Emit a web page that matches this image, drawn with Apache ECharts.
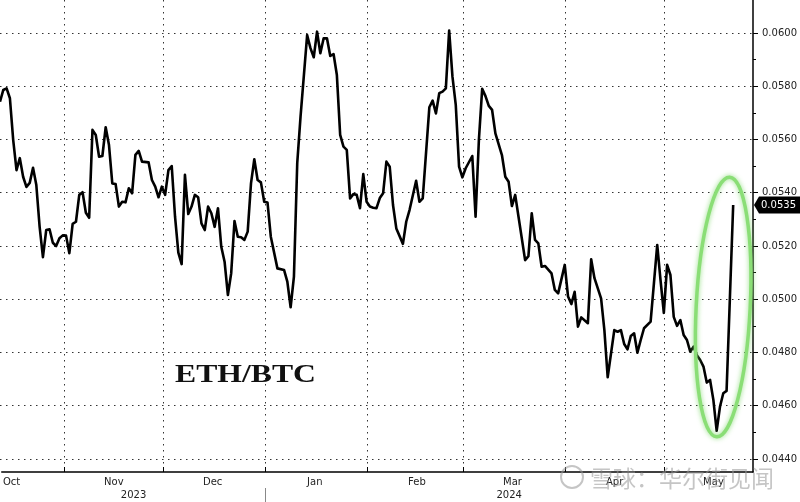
<!DOCTYPE html>
<html><head><meta charset="utf-8">
<script src="https://cdn.jsdelivr.net/npm/echarts@6/dist/echarts.min.js"></script>
<style>html,body{margin:0;padding:0;background:#fff}#c{width:800px;height:502px}</style>
</head><body><div id="c"></div>
<script>
// ---- data ----
const dates = [
'2023-10-13','2023-10-14','2023-10-15','2023-10-16','2023-10-17','2023-10-18','2023-10-19','2023-10-20','2023-10-21','2023-10-22',
'2023-10-23','2023-10-24','2023-10-25','2023-10-26','2023-10-27','2023-10-28','2023-10-29','2023-10-30','2023-10-31',
'2023-11-01','2023-11-02','2023-11-03','2023-11-04','2023-11-05','2023-11-06','2023-11-07','2023-11-08','2023-11-09','2023-11-10',
'2023-11-11','2023-11-12','2023-11-13','2023-11-14','2023-11-15','2023-11-16','2023-11-17','2023-11-18','2023-11-19','2023-11-20',
'2023-11-21','2023-11-22','2023-11-23','2023-11-24','2023-11-25','2023-11-27','2023-11-28','2023-11-29','2023-11-30',
'2023-12-01','2023-12-02','2023-12-03','2023-12-04','2023-12-05','2023-12-06','2023-12-07','2023-12-08','2023-12-09','2023-12-10',
'2023-12-11','2023-12-12','2023-12-13','2023-12-14','2023-12-15','2023-12-16','2023-12-17','2023-12-18','2023-12-19','2023-12-20',
'2023-12-21','2023-12-22','2023-12-23','2023-12-24','2023-12-25','2023-12-26','2023-12-27','2023-12-28','2023-12-29','2023-12-30','2023-12-31',
'2024-01-01','2024-01-02','2024-01-03','2024-01-05','2024-01-07','2024-01-08','2024-01-09','2024-01-10','2024-01-11','2024-01-12',
'2024-01-14','2024-01-15','2024-01-16','2024-01-17','2024-01-18','2024-01-19','2024-01-20','2024-01-21','2024-01-22','2024-01-23',
'2024-01-24','2024-01-25','2024-01-26','2024-01-27','2024-01-28','2024-01-29','2024-01-30','2024-01-31',
'2024-02-01','2024-02-02','2024-02-03','2024-02-04','2024-02-05','2024-02-06','2024-02-07','2024-02-08','2024-02-09','2024-02-10',
'2024-02-12','2024-02-13','2024-02-14','2024-02-16','2024-02-17','2024-02-18','2024-02-20','2024-02-21','2024-02-22','2024-02-23',
'2024-02-24','2024-02-25','2024-02-26','2024-02-27','2024-02-28','2024-02-29',
'2024-03-01','2024-03-02','2024-03-04','2024-03-05','2024-03-06','2024-03-07','2024-03-08','2024-03-09','2024-03-10','2024-03-11',
'2024-03-13','2024-03-14','2024-03-15','2024-03-16','2024-03-17','2024-03-18','2024-03-20','2024-03-21','2024-03-22','2024-03-23',
'2024-03-24','2024-03-25','2024-03-26','2024-03-28','2024-03-29','2024-03-30',
'2024-04-01','2024-04-02','2024-04-03','2024-04-04','2024-04-05','2024-04-06','2024-04-08','2024-04-09','2024-04-10','2024-04-12',
'2024-04-13','2024-04-14','2024-04-16','2024-04-17','2024-04-18','2024-04-19','2024-04-20','2024-04-21','2024-04-22','2024-04-23',
'2024-04-24','2024-04-25','2024-04-27','2024-04-28','2024-04-29','2024-04-30',
'2024-05-01','2024-05-02','2024-05-03','2024-05-04','2024-05-05','2024-05-06','2024-05-07','2024-05-08','2024-05-09','2024-05-10',
'2024-05-11','2024-05-12','2024-05-13','2024-05-14','2024-05-15','2024-05-16','2024-05-17','2024-05-18','2024-05-19','2024-05-20',
'2024-05-21','2024-05-22'
];
const values = [
0.05742,0.05786,0.05792,0.05755,0.05598,0.05485,0.05530,0.05460,0.05422,0.05437,
0.05494,0.05429,0.05272,0.05158,0.05260,0.05263,0.05212,0.05200,0.05229,
0.05240,0.05239,0.05173,0.05283,0.05291,0.05392,0.05402,0.05325,0.05306,0.05636,
0.05617,0.05535,0.05538,0.05646,0.05579,0.05435,0.05433,0.05348,0.05366,0.05364,
0.05417,0.05398,0.05542,0.05557,0.05517,0.05514,0.05448,0.05423,0.05383,
0.05423,0.05392,0.05485,0.05500,0.05310,0.05175,0.05132,0.05467,0.05320,0.05348,
0.05392,0.05383,0.05285,0.05260,0.05348,0.05323,0.05272,0.05342,0.05197,0.05141,
0.05016,0.05097,0.05294,0.05235,0.05233,0.05223,0.05254,0.05435,0.05526,0.05448,0.05439,
0.05366,0.05363,0.05235,0.05116,0.05110,0.05066,0.04970,0.05085,0.05511,0.05686,
0.05992,0.05943,0.05909,0.06005,0.05924,0.05980,0.05980,0.05914,0.05921,0.05842,
0.05617,0.05573,0.05561,0.05379,0.05395,0.05392,0.05342,0.05470,
0.05366,0.05348,0.05344,0.05342,0.05380,0.05398,0.05517,0.05498,0.05354,0.05266,
0.05208,0.05291,0.05335,0.05445,0.05366,0.05379,0.05721,0.05746,0.05698,0.05774,
0.05780,0.05792,0.06009,0.05836,0.05730,0.05498,
0.05458,0.05492,0.05538,0.05310,0.05598,0.05790,0.05763,0.05726,0.05711,0.05623,
0.05540,0.05460,0.05441,0.05350,0.05392,0.05310,0.05147,0.05162,0.05323,0.05223,
0.05210,0.05122,0.05125,0.05097,0.05035,0.05022,
0.05129,0.05010,0.04982,0.05028,0.04897,0.04932,0.04910,0.05150,0.05079,0.05003,
0.04884,0.04707,0.04884,0.04878,0.04884,0.04832,0.04812,0.04862,0.04872,0.04799,
0.04847,0.04891,0.04916,0.05060,0.05204,0.05072,
0.04949,0.05129,0.05091,0.04934,0.04900,0.04922,0.04866,0.04847,0.04803,0.04822,
0.04790,0.04772,0.04747,0.04687,0.04697,0.04622,0.04506,0.04596,0.04647,0.04656,
0.05004,0.05354
];
const monthNames = ['Jan','Feb','Mar','Apr','May','Jun','Jul','Aug','Sep','Oct','Nov','Dec'];
const yearLabels = ['2023','2024'];
const axisStart = '2023-10-13';
const axisEnd = '2024-05-28';
const yMin = 0.044, yMax = 0.060, yStep = 0.002;
const chartTitle = 'ETH/BTC';
const watermark = '雪球：华尔街见闻';

// ---- daily category axis ----
const categories = [];
for (let t = Date.parse(axisStart + 'T00:00:00Z'); t <= Date.parse(axisEnd + 'T00:00:00Z'); t += 86400000) {
  categories.push(new Date(t).toISOString().slice(0, 10));
}
const isMonthStart = (i, v) => v.slice(8) === '01';
const isMidMonth = (i, v) => v.slice(8) === '16';
const yearIdx = categories.findIndex(v => v.endsWith('-01-01'));
const yearMid = [Math.round(yearIdx / 2), Math.round((yearIdx + categories.length - 1) / 2)];

const FONT = 'DejaVu Sans';
const dotted = { type: [1.5, 4.5], color: '#333', width: 1 };

const chart = echarts.init(document.getElementById('c'), null, { renderer: 'canvas' });
chart.setOption({
  animation: false,
  backgroundColor: '#fff',
  grid: [
    { left: 0, right: 47, top: 0, bottom: 30 },
    { left: 0, right: 47, top: 33, bottom: 43 }
  ],
  xAxis: [
    {
      type: 'category', gridIndex: 0, data: categories, boundaryGap: false, position: 'bottom',
      axisLine: { show: true, lineStyle: { color: '#000', width: 1.5 } },
      axisTick: { show: true, inside: true, length: 5, interval: isMonthStart, lineStyle: { color: '#000' } },
      axisLabel: { interval: isMidMonth, formatter: v => monthNames[+v.slice(5, 7) - 1], margin: 5,
        color: '#222', fontFamily: FONT, fontSize: 10 },
      splitLine: { show: true, interval: isMonthStart, lineStyle: dotted }
    },
    {
      type: 'category', gridIndex: 0, data: categories, boundaryGap: false, position: 'bottom', offset: 16,
      axisLine: { show: false },
      axisTick: { show: true, length: 14, interval: (i, v) => v.endsWith('-01-01'), lineStyle: { color: '#888' } },
      axisLabel: { interval: (i) => yearMid.includes(i), formatter: v => yearLabels[yearLabels.indexOf(v.slice(0, 4))],
        margin: 2, color: '#222', fontFamily: FONT, fontSize: 10 },
      splitLine: { show: false }
    },
    { type: 'category', gridIndex: 1, data: categories, boundaryGap: false, show: false }
  ],
  yAxis: [
    { type: 'value', gridIndex: 0, position: 'right', min: 0, max: 1,
      axisLine: { show: true, lineStyle: { color: '#000', width: 1.5 } },
      axisTick: { show: false }, axisLabel: { show: false }, splitLine: { show: false } },
    { type: 'value', gridIndex: 1, position: 'right', min: yMin, max: yMax, interval: yStep,
      axisLine: { show: false },
      axisTick: { show: true, length: 5, lineStyle: { color: '#000' } },
      minorTick: { show: true, splitNumber: 2, length: 3, lineStyle: { color: '#000' } },
      axisLabel: { formatter: v => v.toFixed(4), margin: 9, color: '#222', fontFamily: FONT, fontSize: 10 },
      splitLine: { show: true, lineStyle: dotted }
    }
  ],
  series: [{
    name: chartTitle, type: 'line', xAxisIndex: 2, yAxisIndex: 1,
    data: dates.map((d, i) => [d, values[i]]),
    showSymbol: false, clip: false,
    lineStyle: { color: '#000', width: 2.6, join: 'round' }
  }]
});

// decorations placed with the library's own scales
const last = values.length - 1;
const tagY = chart.convertToPixel({ yAxisIndex: 1 }, values[last]);
const axisX = chart.convertToPixel({ xAxisIndex: 2 }, categories[categories.length - 1]);
const lowIdx = categories.indexOf(dates[last]);
const ellX = chart.convertToPixel({ xAxisIndex: 2 }, categories[lowIdx]) - 10;

chart.setOption({
  graphic: [
    { type: 'ellipse', x: ellX, y: 307, rotation: -0.05, z: 90,
      shape: { cx: 0, cy: 0, rx: 27, ry: 130 },
      style: { fill: 'none', stroke: '#8ade76', lineWidth: 3.5, shadowBlur: 5, shadowColor: 'rgba(120,215,100,0.8)' } },
    { type: 'group', x: axisX, y: tagY, z: 100, children: [
      { type: 'polygon', shape: { points: [[1, 0], [6, -8.5], [47, -8.5], [47, 8.5], [6, 8.5]] }, style: { fill: '#000' } },
      { type: 'text', x: 8, y: 0, style: { text: values[last].toFixed(4), fill: '#fff', font: '10px "DejaVu Sans"', verticalAlign: 'middle', align: 'left' } }
    ] },
    { type: 'text', x: 175, y: 375, z: 100, scaleX: 1.22,
      style: { text: chartTitle, fill: '#111', font: 'bold 26px "Liberation Serif"', verticalAlign: 'middle', align: 'left' } },
    { type: 'circle', x: 572, y: 477, z: 100, shape: { r: 11 },
      style: { fill: 'none', stroke: 'rgba(150,150,150,0.55)', lineWidth: 2 } },
    { type: 'text', x: 590, y: 478, z: 100,
      style: { text: watermark, fill: 'rgba(150,150,150,0.55)', font: '23px "Noto Sans CJK SC"', verticalAlign: 'middle', align: 'left' } }
  ]
});
</script></body></html>
